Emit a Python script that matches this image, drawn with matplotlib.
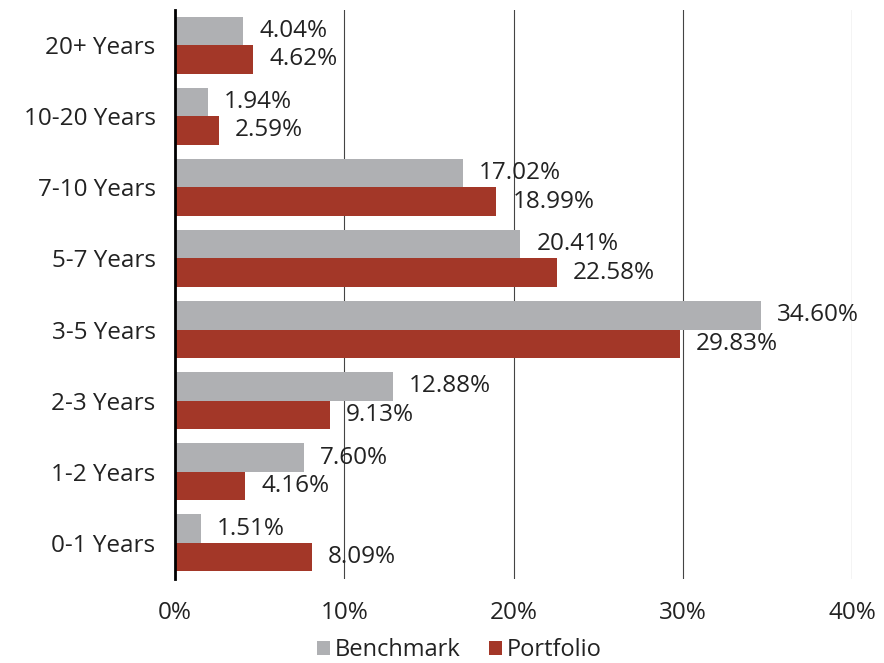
import matplotlib.pyplot as plt
import numpy as np

plt.rcParams['font.family'] = ['Open Sans', 'DejaVu Sans']

categories = ['0-1 Years', '1-2 Years', '2-3 Years', '3-5 Years',
              '5-7 Years', '7-10 Years', '10-20 Years', '20+ Years']
benchmark = [1.51, 7.60, 12.88, 34.60, 20.41, 17.02, 1.94, 4.04]
portfolio = [8.09, 4.16, 9.13, 29.83, 22.58, 18.99, 2.59, 4.62]

gray = '#afb0b3'
red = '#a33728'
fs = 17.5

fig = plt.figure(figsize=(8.84, 6.63), dpi=100)
ax = fig.add_axes([175 / 884, 84.5 / 663, 677 / 884, 569 / 663])

y = np.arange(len(categories))
h = 0.4
ax.barh(y + h / 2, benchmark, height=h, color=gray, label='Benchmark', zorder=2)
ax.barh(y - h / 2, portfolio, height=h, color=red, label='Portfolio', zorder=2)

for yi, b, p in zip(y, benchmark, portfolio):
    ax.text(b + 0.95, yi + h / 2, f'{b:.2f}%', va='center', ha='left',
            fontsize=fs, color='#222222', zorder=1)
    ax.text(p + 0.95, yi - h / 2, f'{p:.2f}%', va='center', ha='left',
            fontsize=fs, color='#222222', zorder=1)

ax.set_xlim(0, 40)
ax.set_ylim(-0.5, len(categories) - 0.5)
ax.set_xticks([0, 10, 20, 30, 40])
ax.set_xticklabels(['0%', '10%', '20%', '30%', '40%'])
ax.set_yticks(y)
ax.set_yticklabels(categories)
ax.tick_params(length=0, labelsize=fs, colors='#222222')
ax.tick_params(axis='x', pad=16)
ax.tick_params(axis='y', pad=14)
ax.xaxis.grid(True, color='#444444', linewidth=0.8, zorder=0)
ax.set_axisbelow(True)
for s in ['top', 'right', 'bottom']:
    ax.spines[s].set_visible(False)
ax.spines['left'].set_linewidth(2)
ax.spines['left'].set_color('black')
ax.spines['left'].set_zorder(3)

ax.legend(loc='upper center', bbox_to_anchor=(0.42, -0.08), ncol=2, frameon=False,
          fontsize=17, handlelength=0.55, handleheight=0.55, handletextpad=0.2,
          columnspacing=1.2, labelcolor='#222222', borderpad=0.1)

fig.savefig('out.png', dpi=100)
